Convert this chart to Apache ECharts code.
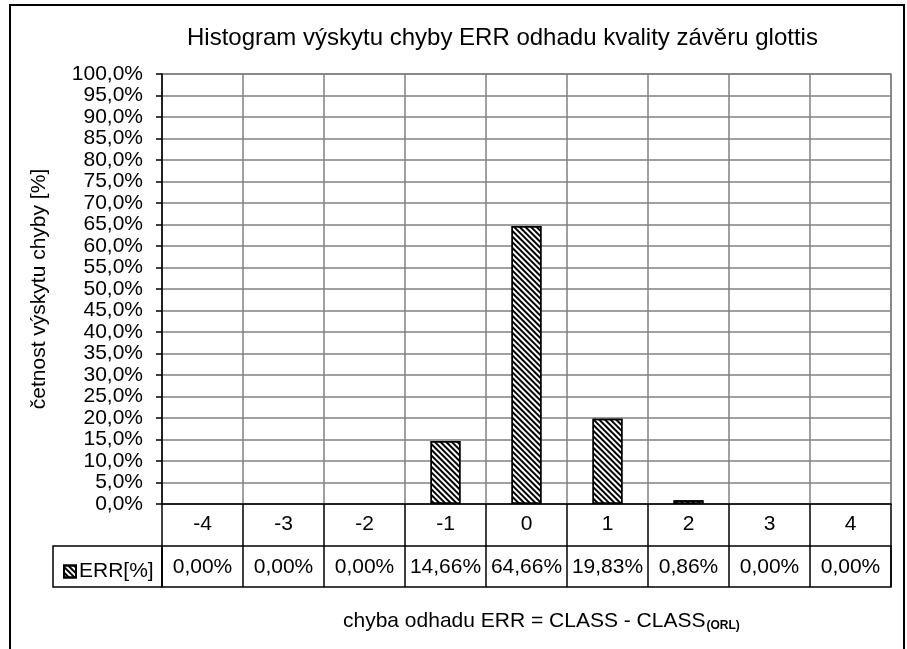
<!DOCTYPE html>
<html>
<head>
<meta charset="utf-8">
<script src="https://cdn.jsdelivr.net/npm/echarts@6/dist/echarts.min.js"></script>
<style>
  html, body { margin: 0; padding: 0; background: #fff; }
  #chart { width: 907px; height: 649px; }
</style>
</head>
<body>
<div id="chart"></div>
<script>
// histogram of ERR (CLASS - CLASS_ORL)
var categories = ['-4', '-3', '-2', '-1', '0', '1', '2', '3', '4']
var errValues = [0.00, 0.00, 0.00, 14.66, 64.66, 19.83, 0.86, 0.00, 0.00]
var seriesName = 'ERR[%]'
var titleText = 'Histogram výskytu chyby ERR odhadu kvality závěru glottis'
var yName = 'četnost výskytu chyby [%]'
var xName = 'chyba odhadu ERR = CLASS - CLASS'
var xNameSub = '(ORL)'

var font = 'Liberation Sans, Arial, sans-serif'

function pct(v, digits) {
  return v.toFixed(digits).replace('.', ',') + '%'
}

var chart = echarts.init(document.getElementById('chart'))

chart.setOption({
  animation: false,
  textStyle: { fontFamily: font, color: '#000' },
  title: {
    text: titleText,
    left: 182,
    top: 21,
    textStyle: { fontFamily: font, fontSize: 24, fontWeight: 'normal', color: '#000' }
  },
  legend: {
    data: [seriesName],
    left: 58,
    top: 556,
    icon: 'rect',
    itemWidth: 12,
    itemHeight: 12,
    itemGap: 4,
    textStyle: { fontFamily: font, fontSize: 21, color: '#000', padding: [0, 0, 0, -2] }
  },
  grid: [
    { left: 162, right: 16, top: 74, bottom: 145, show: true, borderColor: '#808080', borderWidth: 1.5 },
    { left: 162, right: 16, top: 546, height: 41, show: true, borderColor: '#000', borderWidth: 1.5 }
  ],
  xAxis: [
    {
      type: 'category',
      gridIndex: 0,
      data: categories,
      axisLine: { lineStyle: { color: '#000', width: 1.5 } },
      axisTick: { show: true, length: 42, interval: 0, lineStyle: { color: '#000', width: 1.5 } },
      axisLabel: { color: '#000', fontSize: 21, margin: 10, interval: 0 },
      splitLine: { show: true, interval: 0, lineStyle: { color: '#808080', width: 1.5 } }
    },
    {
      type: 'category',
      gridIndex: 1,
      data: categories,
      axisLine: { show: false },
      axisTick: { show: false },
      axisLabel: {
        inside: true,
        margin: 9,
        interval: 0,
        color: '#000',
        fontSize: 21,
        formatter: function(v, i) {
          return pct(errValues[i], 2)
        }
      },
      splitLine: { show: true, interval: 0, lineStyle: { color: '#000', width: 1.5 } }
    }
  ],
  yAxis: [
    {
      type: 'value',
      gridIndex: 0,
      min: 0,
      max: 100,
      interval: 5,
      name: yName,
      nameLocation: 'middle',
      nameGap: 112,
      nameTextStyle: { fontFamily: font, fontSize: 21, color: '#000' },
      axisLine: { show: true, lineStyle: { color: '#000', width: 1.5 } },
      axisTick: { show: true, length: 6, lineStyle: { color: '#000', width: 1.5 } },
      axisLabel: {
        color: '#000',
        fontSize: 21,
        margin: 19,
        formatter: function(v) {
          return pct(v, 1)
        }
      },
      splitLine: { show: true, lineStyle: { color: '#808080', width: 1.5 } }
    },
    {
      type: 'value',
      gridIndex: 1,
      show: false
    }
  ],
  series: [{
    name: seriesName,
    type: 'bar',
    xAxisIndex: 0,
    yAxisIndex: 0,
    // empty classes draw no bar
    data: errValues.map(function(v) { return v === 0 ? null : v }),
    barWidth: 30,
    itemStyle: {
      color: '#fff',
      borderColor: '#000',
      borderWidth: 1.5,
      decal: {
        symbol: 'rect',
        symbolSize: 1,
        color: '#000',
        dashArrayX: [1, 0],
        dashArrayY: [1.2, 1.2],
        rotation: Math.PI / 4
      }
    }
  }],
  graphic: [
    {
      type: 'rect',
      shape: { x: 10, y: 5, width: 894, height: 700 },
      style: { fill: 'none', stroke: '#000', lineWidth: 2 },
      silent: true
    },
    {
      type: 'rect',
      shape: { x: 53, y: 546, width: 109, height: 41 },
      style: { fill: 'none', stroke: '#000', lineWidth: 1.5 },
      silent: true
    },
    {
      type: 'text',
      left: 343,
      top: 611,
      style: {
        text: '{a|' + xName + '}{b|' + xNameSub + '}',
        rich: {
          a: { fontFamily: font, fontSize: 21, fill: '#000' },
          b: { fontFamily: font, fontSize: 12, fontWeight: 'bold', fill: '#000', verticalAlign: 'bottom', padding: [6, 0, 0, 1] }
        }
      }
    }
  ]
})
</script>
</body>
</html>
